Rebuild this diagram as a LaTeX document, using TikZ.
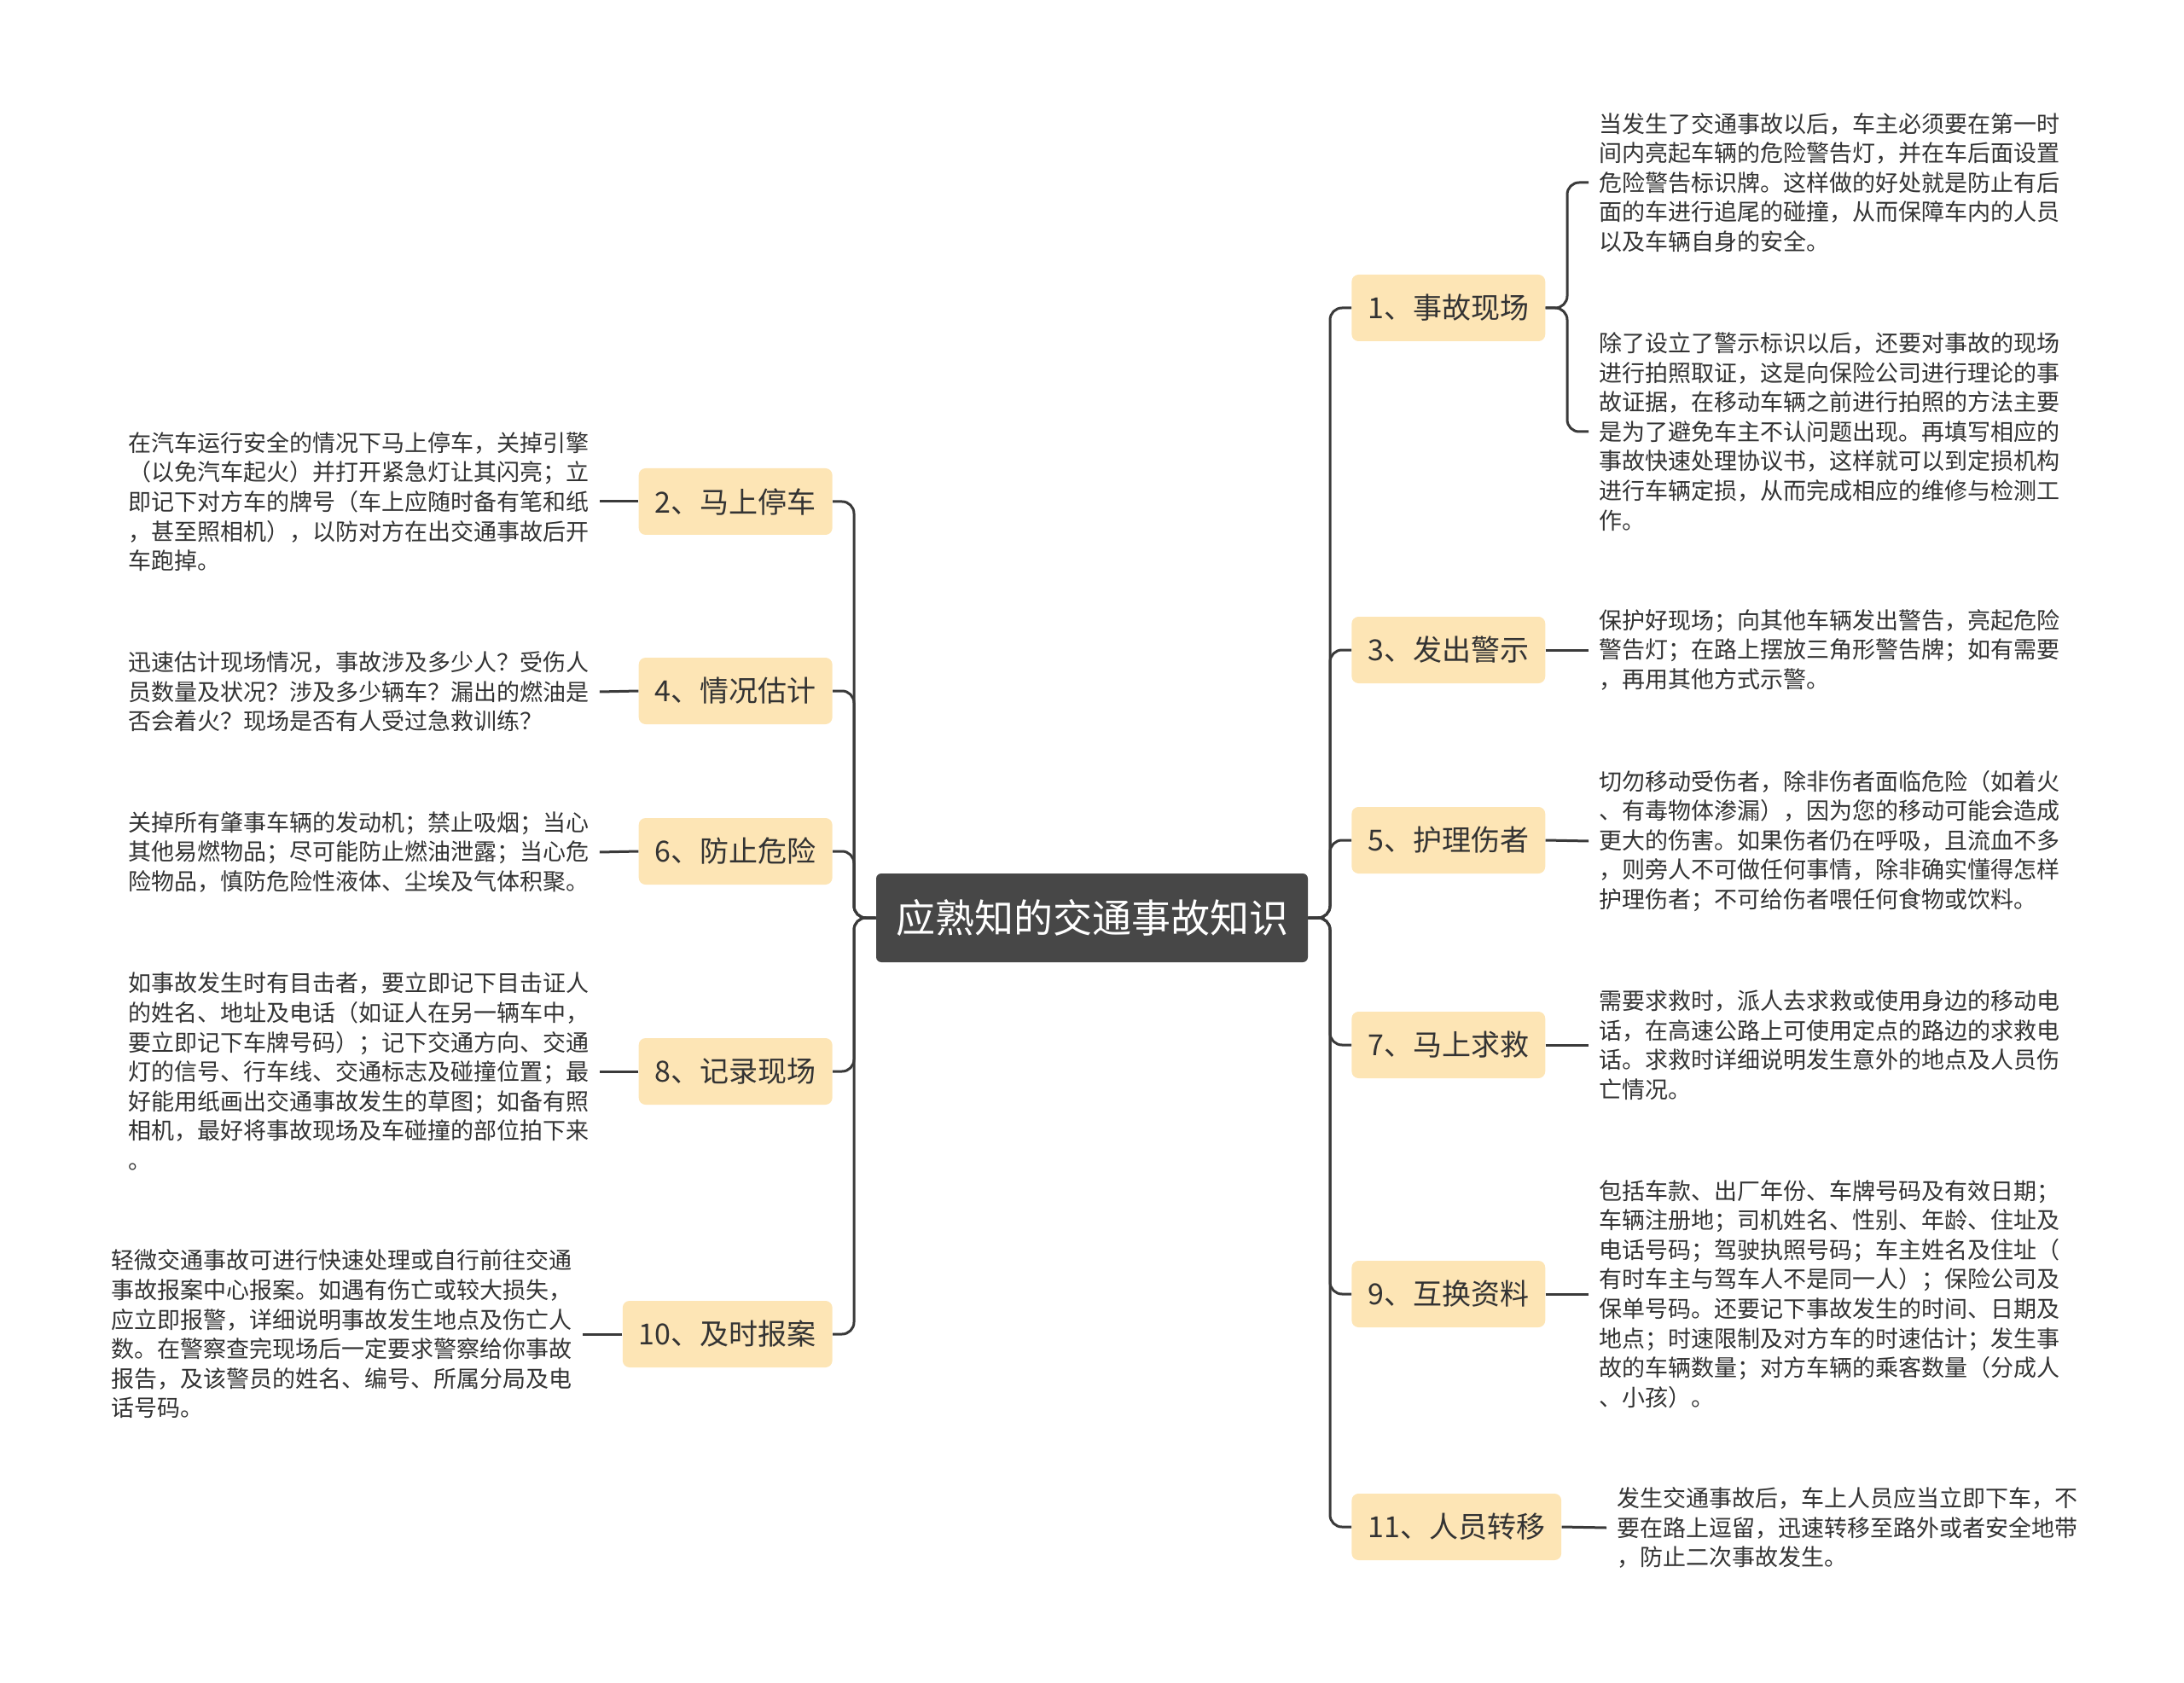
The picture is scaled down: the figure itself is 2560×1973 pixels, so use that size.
\documentclass[tikz,border=0pt]{standalone}
\usepackage{fontspec}
\setmainfont{Noto Sans CJK SC}
\usetikzlibrary{positioning}
\definecolor{topicfill}{HTML}{FDE5B5}
\definecolor{rootfill}{HTML}{474747}
\definecolor{linkgray}{HTML}{3A3A3A}
\definecolor{inktext}{HTML}{333333}

\begin{document}
\begin{tikzpicture}[x=0.5pt, y=-0.5pt,
  root/.style={rectangle, rounded corners=3pt, fill=rootfill, text=white, font=\fontsize{23}{28}\selectfont, minimum width=253pt, minimum height=52pt, anchor=center},
  topic/.style={rectangle, rounded corners=4pt, fill=topicfill, text=inktext, font=\fontsize{17}{20}\selectfont, minimum height=39pt, inner xsep=9.5pt},
  leaf/.style={align=left, text=inktext, font=\fontsize{13.5}{17.3}\selectfont, inner xsep=6pt, inner ysep=0pt, anchor=west},
  link/.style={draw=linkgray, line width=1.5pt, rounded corners=7pt}
]
\useasboundingbox (0,0) rectangle (2560,1973);
% Centre
\node[root] (root) at (1280,1076) {应熟知的交通事故知识};
\coordinate (rs) at (1559,1076);
\coordinate (ls) at (1001,1076);
% Right topics
\node[topic, anchor=west] (t1)  at (1584,361)  {1、事故现场};
\node[topic, anchor=west] (t3)  at (1584,762)  {3、发出警示};
\node[topic, anchor=west] (t5)  at (1584,985)  {5、护理伤者};
\node[topic, anchor=west] (t7)  at (1584,1225) {7、马上求救};
\node[topic, anchor=west] (t9)  at (1584,1517) {9、互换资料};
\node[topic, anchor=west] (t11) at (1584,1790) {11、人员转移};
% Left topics
\node[topic, anchor=east] (t2)  at (976,588)  {2、马上停车};
\node[topic, anchor=east] (t4)  at (976,810)  {4、情况估计};
\node[topic, anchor=east] (t6)  at (976,998)  {6、防止危险};
\node[topic, anchor=east] (t8)  at (976,1256) {8、记录现场};
\node[topic, anchor=east] (t10) at (976,1564) {10、及时报案};
% Right leaves
\node[leaf] (l1a) at (1862,214) {当发生了交通事故以后，车主必须要在第一时\\
间内亮起车辆的危险警告灯，并在车后面设置\\
危险警告标识牌。这样做的好处就是防止有后\\
面的车进行追尾的碰撞，从而保障车内的人员\\
以及车辆自身的安全。};
\node[leaf] (l1b) at (1862,506) {除了设立了警示标识以后，还要对事故的现场\\
进行拍照取证，这是向保险公司进行理论的事\\
故证据，在移动车辆之前进行拍照的方法主要\\
是为了避免车主不认问题出现。再填写相应的\\
事故快速处理协议书，这样就可以到定损机构\\
进行车辆定损，从而完成相应的维修与检测工\\
作。};
\node[leaf] (l3) at (1862,762) {保护好现场；向其他车辆发出警告，亮起危险\\
警告灯；在路上摆放三角形警告牌；如有需要\\
，再用其他方式示警。};
\node[leaf] (l5) at (1862,986) {切勿移动受伤者，除非伤者面临危险（如着火\\
、有毒物体渗漏），因为您的移动可能会造成\\
更大的伤害。如果伤者仍在呼吸，且流血不多\\
，则旁人不可做任何事情，除非确实懂得怎样\\
护理伤者；不可给伤者喂任何食物或饮料。};
\node[leaf] (l7) at (1862,1225) {需要求救时，派人去求救或使用身边的移动电\\
话，在高速公路上可使用定点的路边的求救电\\
话。求救时详细说明发生意外的地点及人员伤\\
亡情况。};
\node[leaf] (l9) at (1862,1517) {包括车款、出厂年份、车牌号码及有效日期；\\
车辆注册地；司机姓名、性别、年龄、住址及\\
电话号码；驾驶执照号码；车主姓名及住址（\\
有时车主与驾车人不是同一人）；保险公司及\\
保单号码。还要记下事故发生的时间、日期及\\
地点；时速限制及对方车的时速估计；发生事\\
故的车辆数量；对方车辆的乘客数量（分成人\\
、小孩）。};
\node[leaf] (l11) at (1883,1791) {发生交通事故后，车上人员应当立即下车，不\\
要在路上逗留，迅速转移至路外或者安全地带\\
，防止二次事故发生。};
% Left leaves
\node[leaf] (l2) at (138,588) {在汽车运行安全的情况下马上停车，关掉引擎\\
（以免汽车起火）并打开紧急灯让其闪亮；立\\
即记下对方车的牌号（车上应随时备有笔和纸\\
，甚至照相机），以防对方在出交通事故后开\\
车跑掉。};
\node[leaf] (l4) at (138,811) {迅速估计现场情况，事故涉及多少人？受伤人\\
员数量及状况？涉及多少辆车？漏出的燃油是\\
否会着火？现场是否有人受过急救训练？};
\node[leaf] (l6) at (138,999) {关掉所有肇事车辆的发动机；禁止吸烟；当心\\
其他易燃物品；尽可能防止燃油泄露；当心危\\
险物品，慎防危险性液体、尘埃及气体积聚。};
\node[leaf] (l8) at (138,1256) {如事故发生时有目击者，要立即记下目击证人\\
的姓名、地址及电话（如证人在另一辆车中，\\
要立即记下车牌号码）；记下交通方向、交通\\
灯的信号、行车线、交通标志及碰撞位置；最\\
好能用纸画出交通事故发生的草图；如备有照\\
相机，最好将事故现场及车碰撞的部位拍下来\\
。};
\node[leaf] (l10) at (118,1564) {轻微交通事故可进行快速处理或自行前往交通\\
事故报案中心报案。如遇有伤亡或较大损失，\\
应立即报警，详细说明事故发生地点及伤亡人\\
数。在警察查完现场后一定要求警察给你事故\\
报告，及该警员的姓名、编号、所属分局及电\\
话号码。};
% Links from the centre
\foreach \t in {t1,t3,t5,t7,t9,t11}
  \draw[link] (root.east) -- (rs) |- (\t.west);
\foreach \t in {t2,t4,t6,t8,t10}
  \draw[link] (root.west) -- (ls) |- (\t.east);
% Links to the leaves
\coordinate (b1) at (1837,361);
\draw[link] (t1.east) -- (b1) |- (l1a.west);
\draw[link] (t1.east) -- (b1) |- (l1b.west);
\draw[link] (t3.east) -- (l3.west);
\draw[link] (t5.east) -- (l5.west);
\draw[link] (t7.east) -- (l7.west);
\draw[link] (t9.east) -- (l9.west);
\draw[link] (t11.east) -- (l11.west);
\draw[link] (t2.west) -- (l2.east);
\draw[link] (t4.west) -- (l4.east);
\draw[link] (t6.west) -- (l6.east);
\draw[link] (t8.west) -- (l8.east);
\draw[link] (t10.west) -- (l10.east);
\end{tikzpicture}
\end{document}
